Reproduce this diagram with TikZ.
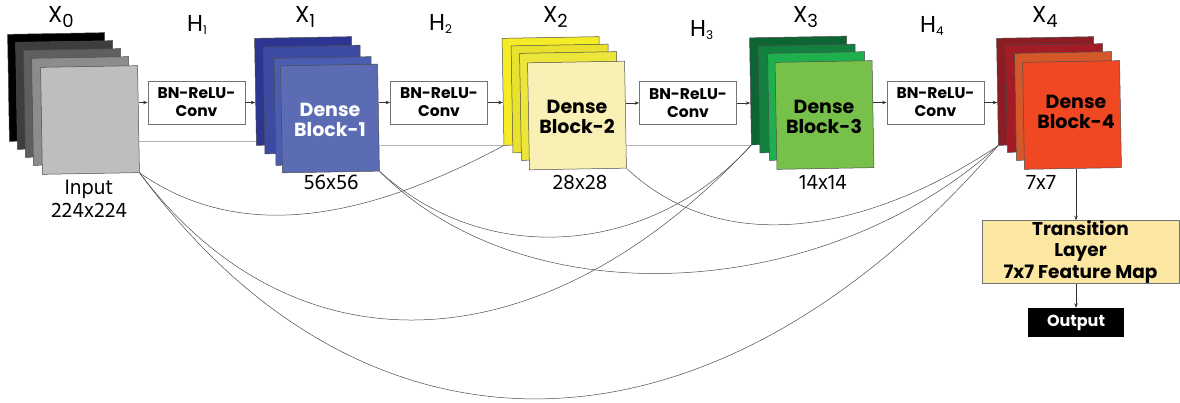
\documentclass[tikz,border=0pt]{standalone}
\usepackage{fontspec}
\setmainfont{Poppins}
\newfontfamily\dimfont{Hind Siliguri}
\usetikzlibrary{arrows.meta,calc}

% layer colours of the five feature-map stacks
\definecolor{gA}{HTML}{000000}
\definecolor{gB}{HTML}{3E3E3E}
\definecolor{gC}{HTML}{5F5F5F}
\definecolor{gD}{HTML}{8C8C8C}
\definecolor{gE}{HTML}{BDBEC0}
\definecolor{bA}{HTML}{2C3592}
\definecolor{bB}{HTML}{3C4AA2}
\definecolor{bC}{HTML}{4B5DB0}
\definecolor{bD}{HTML}{5B6CB4}
\definecolor{yA}{HTML}{F4EC27}
\definecolor{yB}{HTML}{E9E12E}
\definecolor{yC}{HTML}{EDE63A}
\definecolor{yD}{HTML}{F9F0B6}
\definecolor{nA}{HTML}{0E6534}
\definecolor{nB}{HTML}{12803F}
\definecolor{nC}{HTML}{1FB04E}
\definecolor{nD}{HTML}{77C14A}
\definecolor{rA}{HTML}{8C1D24}
\definecolor{rB}{HTML}{A31B24}
\definecolor{rC}{HTML}{D4582A}
\definecolor{rD}{HTML}{EF4823}
\definecolor{transfill}{HTML}{FBE6A2}

\newcommand\Xlab[1]{X\raisebox{-5pt}{\fontsize{18}{18}\selectfont #1}}
\newcommand\Hlab[1]{H\raisebox{-3pt}{\fontsize{12}{12}\selectfont #1}}

\begin{document}
\begin{tikzpicture}[x=1pt,y=-1pt,
  layer/.style={rectangle,inner sep=0pt,minimum width=97pt,minimum height=107pt,
                rotate=1,draw=black!70,line width=0.5pt},
  opbox/.style={rectangle,draw=black!55,line width=0.8pt,fill=white,
                minimum width=97pt,minimum height=43pt,inner sep=0pt,align=center,
                font=\fontsize{15.5}{18}\selectfont\bfseries},
  blocktext/.style={align=center,inner sep=0pt,font=\fontsize{19}{20}\selectfont\bfseries},
  dimlabel/.style={anchor=base,inner sep=0pt,font=\dimfont\fontsize{21.5}{22}\selectfont},
  toplabel/.style={anchor=base west,inner sep=0pt,font=\fontsize{23}{24}\selectfont},
  arr/.style={-{Stealth[length=4.5pt,width=3.5pt]},line width=0.6pt,draw=black!80},
  skipline/.style={draw=black!30,line width=0.9pt},
  denseline/.style={draw=black!70,line width=0.5pt}
]
\useasboundingbox (0,0) rectangle (1180,403);

% ---- X0 : input stack
\node[layer,fill=gA] (x0a) at (57,87)  {};
\node[layer,fill=gB] (x0b) at (65,95)  {};
\node[layer,fill=gC] (x0c) at (73,103) {};
\node[layer,fill=gD] (x0d) at (81,111) {};
\node[layer,fill=gE] (x0e) at (90,120) {};

% ---- X1 : dense block 1
\node[layer,fill=bA] (x1a) at (304,91)    {};
\node[layer,fill=bB] (x1b) at (312.5,99.5) {};
\node[layer,fill=bC] (x1c) at (323.5,111) {};
\node[layer,fill=bD] (x1d) at (330,118.5) {};
\node[blocktext,text=white] (t1) at (330,120) {Dense\\Block-1};

% ---- X2 : dense block 2
\node[layer,fill=yA] (x2a) at (551.5,91)   {};
\node[layer,fill=yB] (x2b) at (560.5,98.5) {};
\node[layer,fill=yC] (x2c) at (569,106)    {};
\node[layer,fill=yD] (x2d) at (577,115.5)  {};
\node[blocktext] (t2) at (577,117) {Dense\\Block-2};

% ---- X3 : dense block 3
\node[layer,fill=nA] (x3a) at (799,90.5)   {};
\node[layer,fill=nB] (x3b) at (807.5,98.5) {};
\node[layer,fill=nC] (x3c) at (817,106)    {};
\node[layer,fill=nD] (x3d) at (824.5,115)  {};
\node[blocktext] (t3) at (824,117) {Dense\\Block-3};

% ---- X4 : dense block 4
\node[layer,fill=rA] (x4a) at (1046,91) {};
\node[layer,fill=rB] (x4b) at (1055,98) {};
\node[layer,fill=rC] (x4c) at (1064,106) {};
\node[layer,fill=rD] (x4d) at (1072,115) {};
\node[blocktext] (t4) at (1076,112) {Dense\\Block-4};

% ---- composite functions
\node[opbox] (h1) at (196.5,102.5) {BN-ReLU-\\Conv};
\node[opbox] (h2) at (439,102.5)   {BN-ReLU-\\Conv};
\node[opbox] (h3) at (688,103)     {BN-ReLU-\\Conv};
\node[opbox] (h4) at (935.5,102.5) {BN-ReLU-\\Conv};

% ---- head
\node[rectangle,draw=black!55,line width=0.8pt,fill=transfill,minimum width=197pt,
      minimum height=62pt,inner sep=0pt,align=center,
      font=\fontsize{18.5}{21.5}\selectfont\bfseries] (trans) at (1080.5,252)
      {Transition\\Layer\\7x7 Feature Map};
\node[rectangle,fill=black,text=white,minimum width=96pt,minimum height=29pt,inner sep=0pt,
      font=\fontsize{16}{17}\selectfont\bfseries] (outp) at (1076,322.5) {Output};

% ---- labels
\node[toplabel] (lx0) at (48,23)   {\Xlab{0}};
\node[toplabel] (lx1) at (295,23)  {\Xlab{1}};
\node[toplabel] (lx2) at (543,23)  {\Xlab{2}};
\node[toplabel] (lx3) at (793,23)  {\Xlab{3}};
\node[toplabel] (lx4) at (1032,23) {\Xlab{4}};
\node[toplabel] (lh1) at (187,32)  {\Hlab{1}};
\node[toplabel] (lh2) at (429,31)  {\Hlab{2}};
\node[toplabel] (lh3) at (690,37)  {\Hlab{3}};
\node[toplabel] (lh4) at (920,33)  {\Hlab{4}};

\node[dimlabel] (d0a) at (89,195)  {Input};
\node[dimlabel] (d0b) at (89,218)  {224x224};
\node[dimlabel] (d1)  at (331,190) {56x56};
\node[dimlabel] (d2)  at (580,190) {28x28};
\node[dimlabel] (d3)  at (823,190) {14x14};
\node[dimlabel] (d4)  at (1041,190) {7x7};

% ---- main path arrows
\draw[arr] (x0e.east |- h1.west) -- (h1.west);
\draw[arr] (h1.east) -- (h1.east -| x1a.west);
\draw[arr] (x1d.east |- h2.west) -- (h2.west);
\draw[arr] (h2.east) -- (h2.east -| x2a.west);
\draw[arr] (x2d.east |- h3.west) -- (h3.west);
\draw[arr] (h3.east) -- (h3.east -| x3a.west);
\draw[arr] (x3d.east |- h4.west) -- (h4.west);
\draw[arr] (h4.east) -- (h4.east -| x4a.west);
\draw[arr] (x4d.south -| outp.north) -- (outp.north |- trans.north);
\draw[arr] (trans.south -| outp.north) -- (outp.north);

% ---- direct links to the next stack
\draw[skipline] ($(x1a.south west -| x0e.east)+(0,-4)$) -- ($(x1a.south west)+(0,-4)$);
\draw[skipline] (x2a.south west -| x1d.east) -- (x2a.south west);
\draw[skipline] (x3a.south west -| x2d.east) -- (x3a.south west);

% ---- dense connections
\draw[denseline] (x0e.south east) .. controls +(100,70)  and +(-140,75)  .. (x2a.south west);
\draw[denseline] (x0e.south east) .. controls +(150,200) and +(-214,229) .. (x3a.south west);
\draw[denseline] (x0e.south east) .. controls +(220,300) and +(-295,339) .. (x4a.south west);
\draw[denseline] (x1d.south east) .. controls +(110,100) and +(-97,108)  .. (x3a.south west);
\draw[denseline] (x1d.south east) .. controls +(150,150) and +(-171,155) .. (x4a.south west);
\draw[denseline] (x2d.south east) .. controls +(90,85)   and +(-141,94)  .. (x4a.south west);
\end{tikzpicture}
\end{document}
